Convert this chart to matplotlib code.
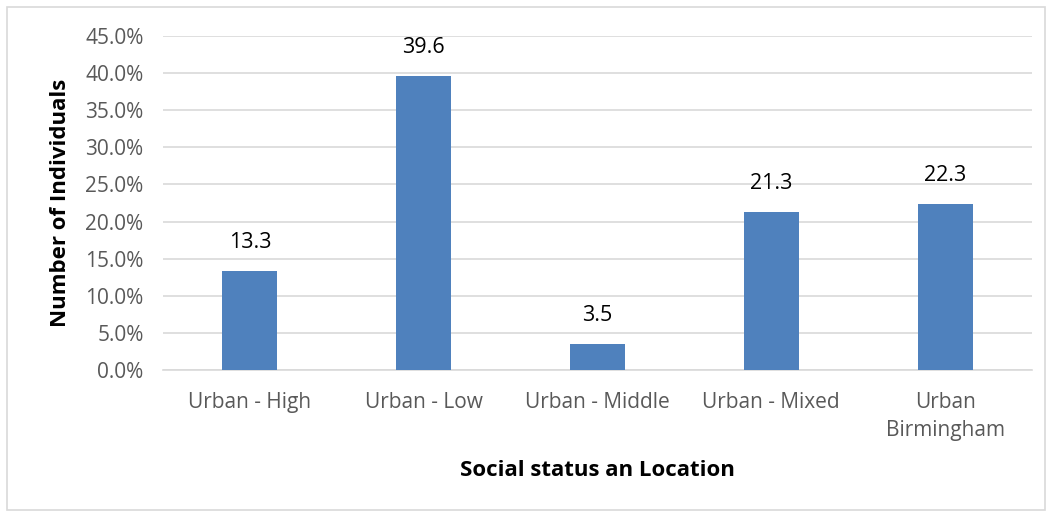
import matplotlib
matplotlib.use("Agg")
import matplotlib.pyplot as plt
from matplotlib.patches import Rectangle
from matplotlib.ticker import FuncFormatter, MultipleLocator

categories = ["Urban - High", "Urban - Low", "Urban - Middle", "Urban - Mixed", "Urban\nBirmingham"]
values = [13.3, 39.6, 3.5, 21.3, 22.3]

plt.rcParams['font.family'] = ['Open Sans', 'DejaVu Sans']

fig = plt.figure(figsize=(10.52, 5.13), dpi=100)
ax = fig.add_axes([163/1052, 1-370/513, (1032-163)/1052, (370-36)/513])

x = range(len(categories))
ax.bar(x, values, width=0.316, color="#4F81BD", zorder=3)
for xi, v in zip(x, values):
    ax.annotate(f"{v:.1f}", (xi, v), xytext=(0, 13), textcoords="offset points",
                ha="center", va="bottom", fontsize=15.5, color="black")

ax.set_xlim(-0.5, len(categories) - 0.5)
ax.set_ylim(0, 45)
ax.yaxis.set_major_locator(MultipleLocator(5))
ax.yaxis.set_major_formatter(FuncFormatter(lambda v, p: f"{v:.1f}%"))
ax.grid(axis="y", color="#D9D9D9", lw=1.2, zorder=0)
ax.set_axisbelow(True)
for s in ["top", "right", "left"]:
    ax.spines[s].set_visible(False)
ax.spines["bottom"].set_color("#D9D9D9")
ax.spines["bottom"].set_linewidth(1.2)
ax.tick_params(axis="both", length=0, labelsize=15, labelcolor="#595959")
ax.tick_params(axis="y", pad=14)
ax.tick_params(axis="x", pad=16)
ax.set_xticks(list(x))
ax.set_xticklabels(categories, linespacing=1.4)

ax.set_ylabel("Number of Individuals", fontsize=16, fontweight="bold", labelpad=10)
ax.set_xlabel("Social status an Location", fontsize=16, fontweight="bold", labelpad=14)

fig.patches.append(Rectangle((7/1052, 3/513), 1038/1052, 503/513, transform=fig.transFigure,
                             fill=False, edgecolor="#D9D9D9", lw=1.2))

fig.savefig("out.png", dpi=100)
